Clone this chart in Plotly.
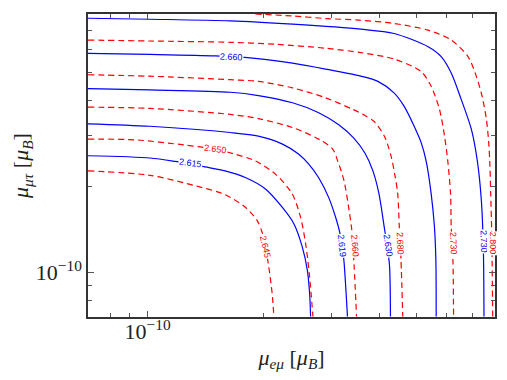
import numpy as np
import plotly.graph_objects as go

# contour paths, values in units of 1e-10 mu_B
E = 1e-10

blue_levels = ["2.615", "2.619", "2.630", "2.660", "2.730"]
blue_x = [
    [0.70, 1.014, 1.178, 1.411, 1.591, 1.795, 2.025, 2.238, 2.400, 2.524, 2.601, 2.637, 2.653],
    [0.70, 1.014, 1.640, 1.941, 2.242, 2.468, 2.621, 2.785, 2.957, 3.083, 3.159, 3.206, 3.241, 3.308],
    [0.70, 1.014, 1.640, 1.941, 2.381, 2.785, 3.140, 3.436, 3.671, 3.852, 3.994, 4.116, 4.191, 4.254, 4.279],
    [0.70, 1.014, 1.499, 1.817, 2.381, 2.904, 3.584, 3.970, 4.371, 4.641, 4.928, 5.140, 5.297, 5.459, 5.568, 5.615, 5.626],
    [0.70, 1.014, 1.640, 2.381, 3.584, 4.371, 5.360, 5.797, 6.156, 6.538, 6.943, 7.197, 7.373, 7.462, 7.490],
]
blue_y = [
    [2.559, 2.514, 2.445, 2.340, 2.267, 2.149, 1.959, 1.692, 1.482, 1.230, 1.022, 0.849, 0.703],
    [3.309, 3.244, 3.085, 2.995, 2.811, 2.595, 2.397, 2.144, 1.828, 1.558, 1.383, 1.237, 1.089, 0.703],
    [4.390, 4.345, 4.264, 4.153, 3.918, 3.618, 3.283, 2.949, 2.616, 2.267, 1.887, 1.462, 1.247, 1.063, 0.703],
    [5.828, 5.781, 5.712, 5.636, 5.389, 5.137, 4.852, 4.653, 4.243, 3.814, 3.252, 2.849, 2.455, 1.887, 1.443, 1.106, 0.703],
    [7.73, 7.67, 7.57, 7.37, 7.08, 6.84, 6.15, 5.68, 4.98, 4.02, 3.17, 2.455, 1.785, 1.198, 0.703],
]

red_levels = ["2.645", "2.650", "2.660", "2.680", "2.730", "2.800"]
red_x = [
    [0.70, 1.014, 1.329, 1.591, 1.795, 1.926, 1.988, 2.025, 2.065, 2.107, 2.130],
    [0.70, 0.927, 1.251, 1.499, 1.670, 1.906, 2.150, 2.377, 2.498, 2.575, 2.637, 2.690],
    [0.70, 1.014, 1.640, 1.941, 2.381, 2.785, 3.029, 3.120, 3.241, 3.341, 3.395, 3.443, 3.493],
    [0.70, 1.014, 1.640, 1.941, 2.381, 2.904, 3.416, 3.627, 3.876, 4.123, 4.292, 4.397, 4.469, 4.512, 4.558, 4.605],
    [0.70, 1.014, 1.640, 2.150, 2.904, 3.584, 4.378, 5.140, 5.459, 5.738, 5.913, 6.035, 6.131, 6.156, 6.219, 6.242],
    [1.906, 2.381, 2.904, 3.584, 4.378, 5.352, 6.156, 6.806, 7.154, 7.405, 7.598, 7.704, 7.760, 7.797, 7.843, 7.863, 7.890],
]
red_y = [
    [2.267, 2.187, 2.012, 1.872, 1.692, 1.522, 1.372, 1.227, 1.049, 0.849, 0.703],
    [2.925, 2.909, 2.789, 2.701, 2.602, 2.455, 2.208, 1.883, 1.562, 1.264, 0.969, 0.703],
    [3.784, 3.745, 3.569, 3.450, 3.211, 2.925, 2.701, 2.455, 2.093, 1.648, 1.405, 1.049, 0.703],
    [4.909, 4.852, 4.718, 4.653, 4.415, 4.078, 3.715, 3.569, 3.376, 3.002, 2.561, 2.178, 1.883, 1.443, 1.106, 0.703],
    [6.489, 6.438, 6.372, 6.271, 6.075, 5.866, 5.564, 5.040, 4.472, 3.715, 3.002, 2.429, 1.883, 1.443, 1.106, 0.703],
    [8.00, 7.874, 7.713, 7.609, 7.411, 7.027, 6.489, 5.679, 4.844, 4.130, 3.430, 2.849, 2.377, 1.883, 1.405, 1.106, 0.703],
]

# inline contour labels: where they sit and how they lean
blue_lab_x = [1.290, 3.197, 4.216, 1.650, 7.485]
blue_lab_y = [2.415, 1.237, 1.237, 5.667, 1.280]
blue_lab_ang = [7, 84, 82, 3, 88]
red_lab_x = [2.025, 1.499, 3.457, 4.531, 6.231, 7.876]
red_lab_y = [1.230, 2.712, 1.237, 1.267, 1.267, 1.267]
red_lab_ang = [77, 8, 85, 87, 88, 90]

x_minor = [8e-11, 9e-11, 2e-10, 3e-10, 4e-10, 5e-10, 6e-10, 7e-10, 8e-10]
y_minor = [8e-11, 9e-11, 2e-10, 3e-10, 4e-10, 5e-10, 6e-10, 7e-10, 8e-10]

fig = go.Figure()

for xs, ys in zip(blue_x, blue_y):
    fig.add_trace(go.Scatter(x=[v * E for v in xs], y=[v * E for v in ys], mode="lines",
        line=dict(color="#0000ff", width=1.2, shape="spline", smoothing=0.8),
        hoverinfo="skip"))

for xs, ys in zip(red_x, red_y):
    fig.add_trace(go.Scatter(x=[v * E for v in xs], y=[v * E for v in ys], mode="lines",
        line=dict(color="#ff0000", width=1.2, dash="6px,4px", shape="spline", smoothing=0.8),
        hoverinfo="skip"))

def add_labels(texts, xs, ys, angs, color):
    for t, x, y, a in zip(texts, xs, ys, angs):
        fig.add_annotation(x=np.log10(x * E), y=np.log10(y * E), xref="x", yref="y",
            text=t, showarrow=False, textangle=a, bgcolor="white", borderpad=0,
            font=dict(family="Liberation Sans", size=9, color=color))

add_labels(blue_levels, blue_lab_x, blue_lab_y, blue_lab_ang, "#0000ff")
add_labels(red_levels, red_lab_x, red_lab_y, red_lab_ang, "#ff0000")

serif = "Liberation Serif"
axis_common = dict(
    type="log",
    range=[np.log10(7e-11), np.log10(8e-10)],
    tickvals=[1e-10], ticktext=["10<sup>−10</sup>"],
    ticks="inside", ticklen=6, tickwidth=1, tickcolor="#555",
    showline=True, linecolor="#333", linewidth=1.5, mirror="ticks",
    showgrid=False, zeroline=False,
    tickfont=dict(family=serif, size=22, color="#222"),
)

# the page body adds an 8px offset, so the figure is sized to fit inside it
fig.update_layout(
    width=499, height=372,
    margin=dict(l=80, r=12, t=4, b=63),
    plot_bgcolor="white", paper_bgcolor="white",
    showlegend=False,
    xaxis=dict(axis_common, ticklabelstandoff=-6,
        minor=dict(tickvals=x_minor, ticks="inside", ticklen=4, tickcolor="#555", showgrid=False),
        title=dict(text="<i>μ</i><sub><i>eμ</i></sub> [<i>μ</i><sub><i>B</i></sub>]",
                   font=dict(family=serif, size=22, color="#222"), standoff=6)),
    yaxis=dict(axis_common,
        minor=dict(tickvals=y_minor, ticks="inside", ticklen=4, tickcolor="#555", showgrid=False),
        title=dict(text="<i>μ</i><sub><i>μτ</i></sub> [<i>μ</i><sub><i>B</i></sub>]",
                   font=dict(family=serif, size=22, color="#222"), standoff=8)),
)

fig.write_html("out.html")
